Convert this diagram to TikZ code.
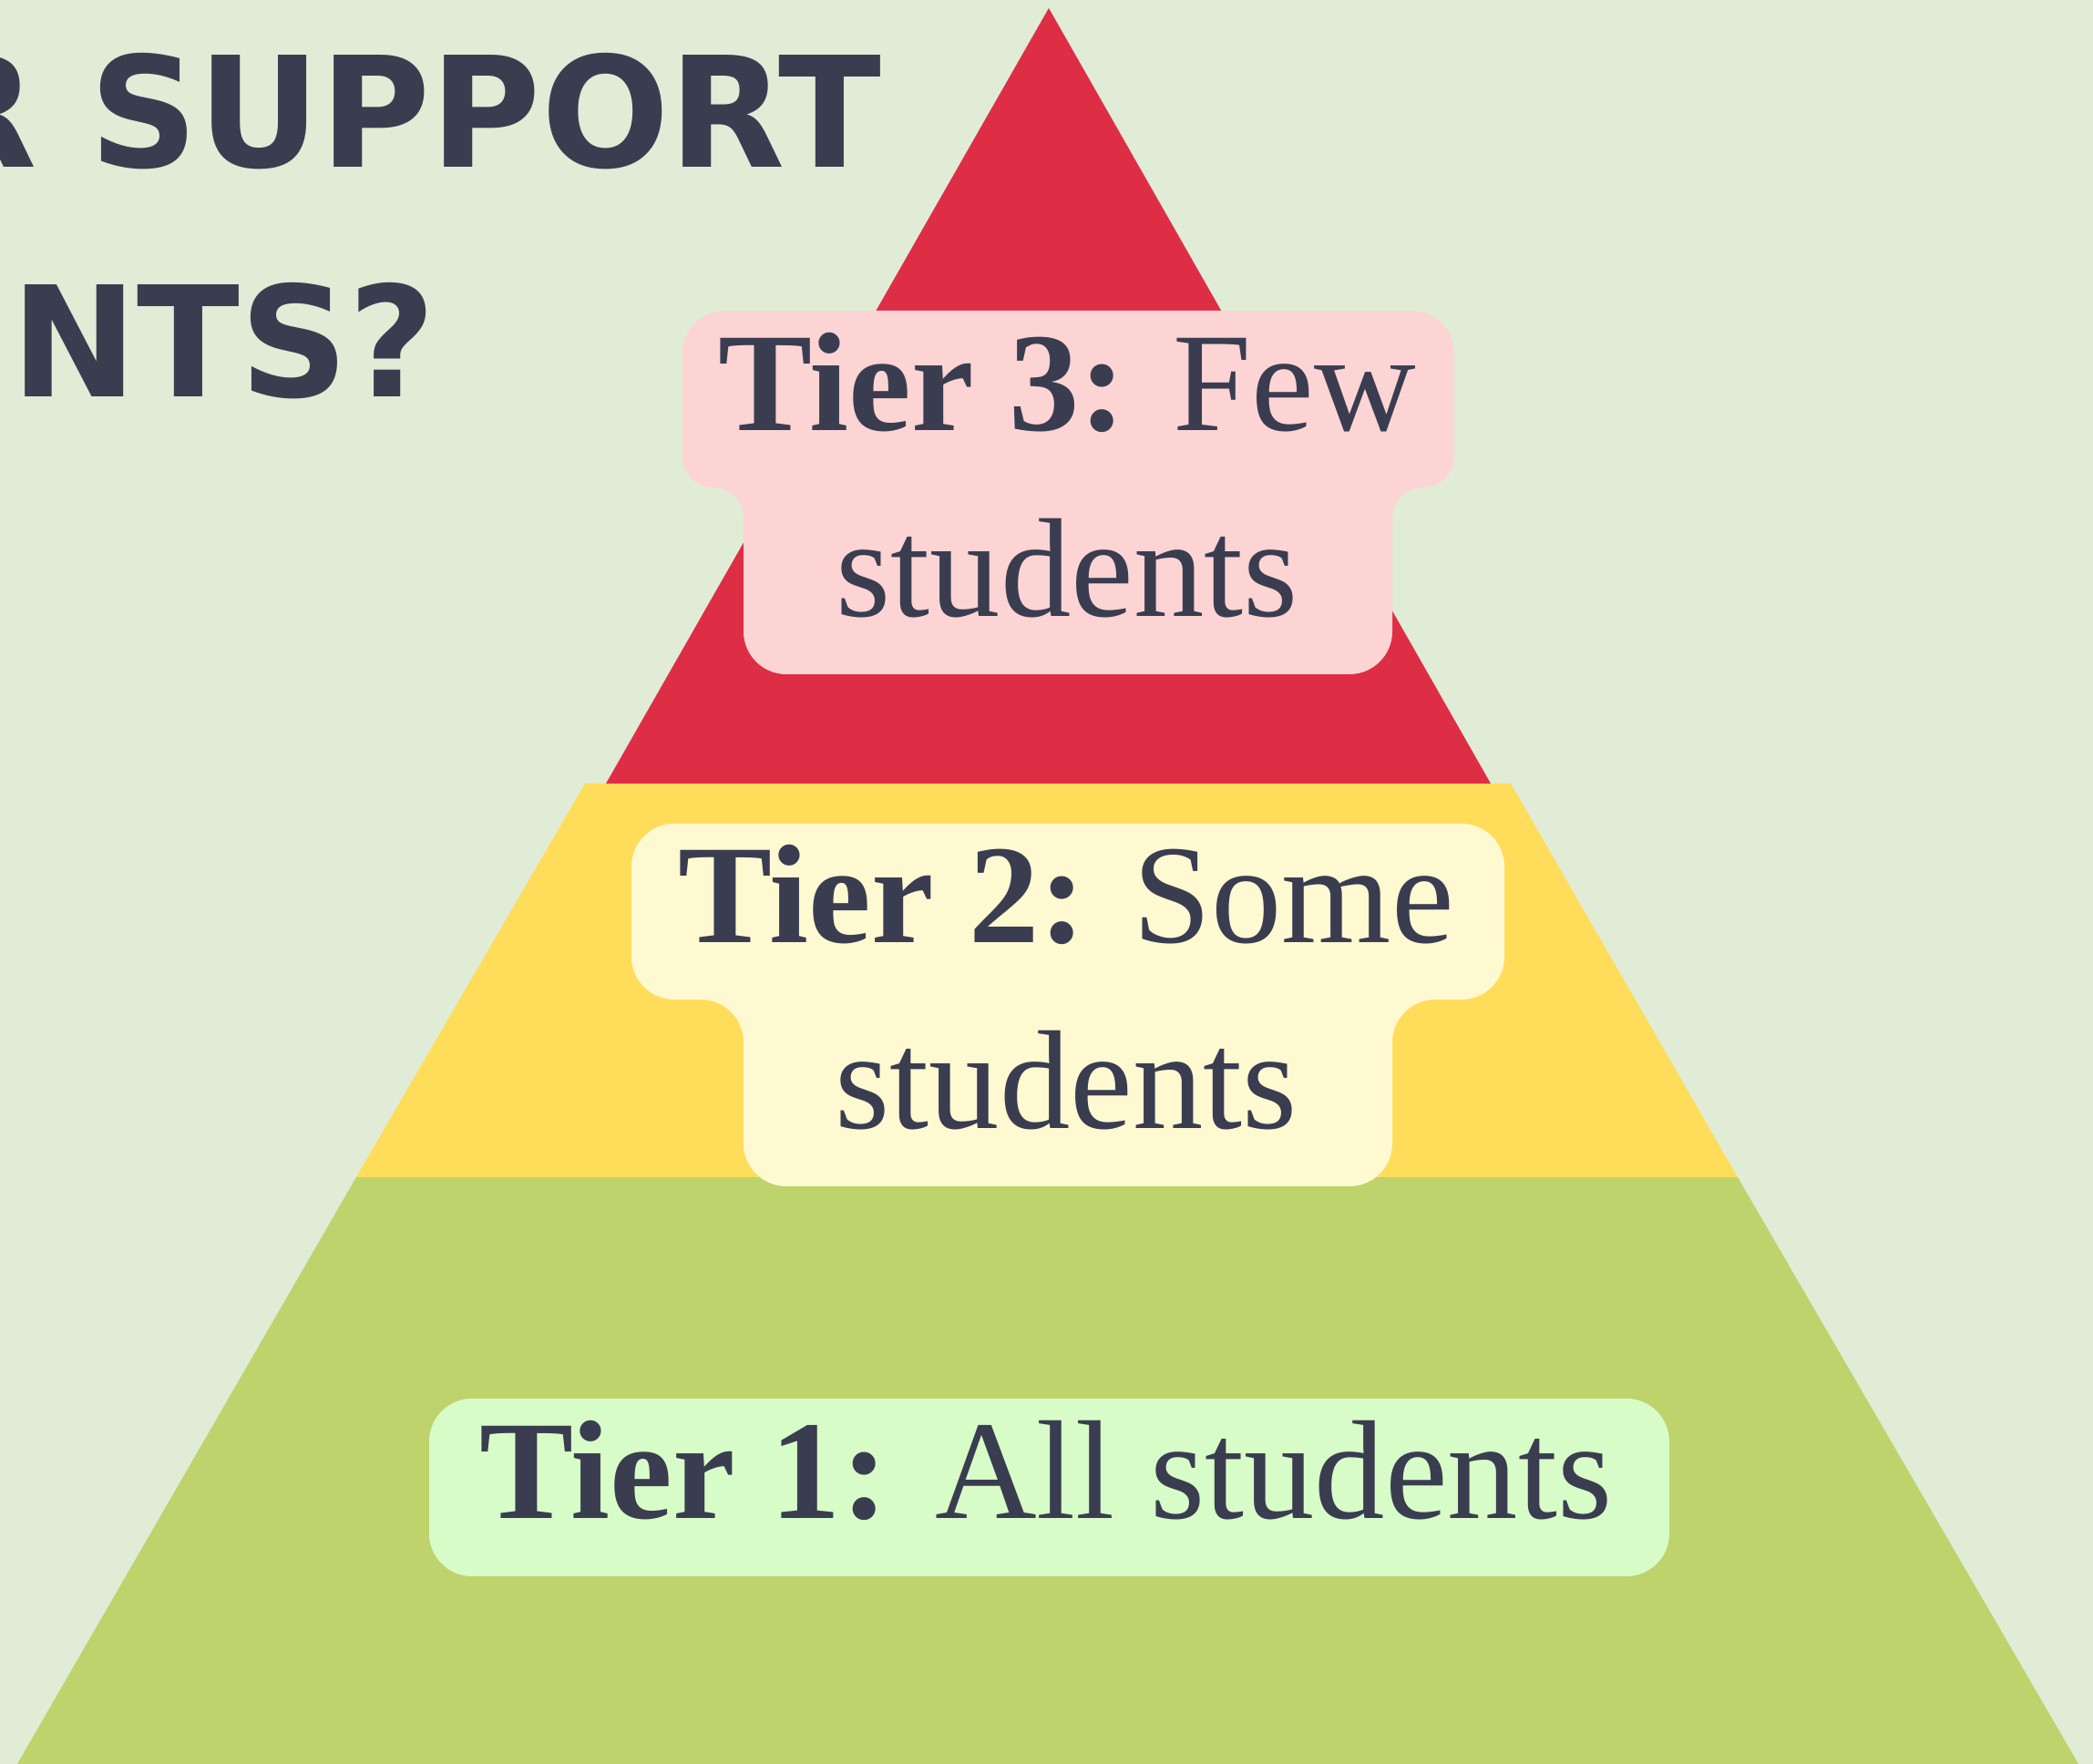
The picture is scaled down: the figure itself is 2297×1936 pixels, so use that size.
\documentclass[tikz,border=0pt]{standalone}
\usepackage{fontspec}
\setmainfont{Liberation Serif}
\newfontfamily\headfont{DejaVu Sans}
\definecolor{bgpaper}{HTML}{E0ECD6}
\definecolor{tierred}{HTML}{DE2E45}
\definecolor{tieryellow}{HTML}{FFDD5A}
\definecolor{tiergreen}{HTML}{BED36C}
\definecolor{boxred}{HTML}{FCD4D4}
\definecolor{boxyellow}{HTML}{FFF9D2}
\definecolor{boxgreen}{HTML}{D8FCC8}
\definecolor{ink}{HTML}{3A3D50}
\tikzset{
	tierlabel/.style={text=ink, align=center, inner sep=0pt, font=\fontsize{44}{58.3}\selectfont},
	headline/.style={text=ink, inner sep=0pt, xscale=0.98, font=\headfont\bfseries\fontsize{48}{58}\selectfont}
}
\begin{document}
\begin{tikzpicture}[x=0.1mm, y=0.1mm]
		% Define canvas
		\useasboundingbox (0,0) rectangle (2297,1936);
		\clip (0,0) rectangle (2297,1936);
		\fill[bgpaper] (0,0) rectangle (2297,1936);
		
		% Draw pyramid bands
		\fill[tiergreen] (19,0) -- (2281,0) -- (1907,644) -- (391,644) -- cycle;
		\fill[tieryellow] (391,644) -- (1907,644) -- (1658,1076) -- (642,1076) -- cycle;
		\fill[tierred] (665,1076) -- (1636,1076) -- (1151,1927) -- cycle;
		
		% Heading
		\node[headline, anchor=base east] (head1) at (968,1752) {R SUPPORT};
		\node[headline, anchor=base east] (head2) at (479,1500) {NTS?};
		
		% Label boxes
		\fill[boxred] (796,1595) -- (1549,1595) arc (90:0:47) -- (1596,1435) arc (0:-90:34)
			-- (1562,1401) arc (90:180:34) -- (1528,1243) arc (0:-90:47) -- (863,1196) arc (270:180:47)
			-- (816,1367.5) arc (0:90:33.5) -- (782.5,1401) arc (270:180:33.5) -- (749,1548) arc (180:90:47) -- cycle;
		\fill[boxyellow] (740,1032) -- (1604,1032) arc (90:0:47) -- (1651,886) arc (0:-90:47)
			-- (1575,839) arc (90:180:47) -- (1528,681) arc (0:-90:47) -- (863,634) arc (270:180:47)
			-- (816,792) arc (0:90:47) -- (740,839) arc (270:180:47) -- (693,985) arc (180:90:47) -- cycle;
		\fill[boxgreen, rounded corners=4.7mm] (471,206) rectangle (1832,401);
		
		% Label texts
		\node[tierlabel, anchor=base] (tier3) at (1171,1259) {\textbf{Tier 3:} Few\\students};
		\node[tierlabel, anchor=base] (tier2) at (1170,697) {\textbf{Tier 2:} Some\\students};
		\node[tierlabel, anchor=base] (tier1) at (1148,269) {\textbf{Tier 1:} All students};
	\end{tikzpicture}
\end{document}
